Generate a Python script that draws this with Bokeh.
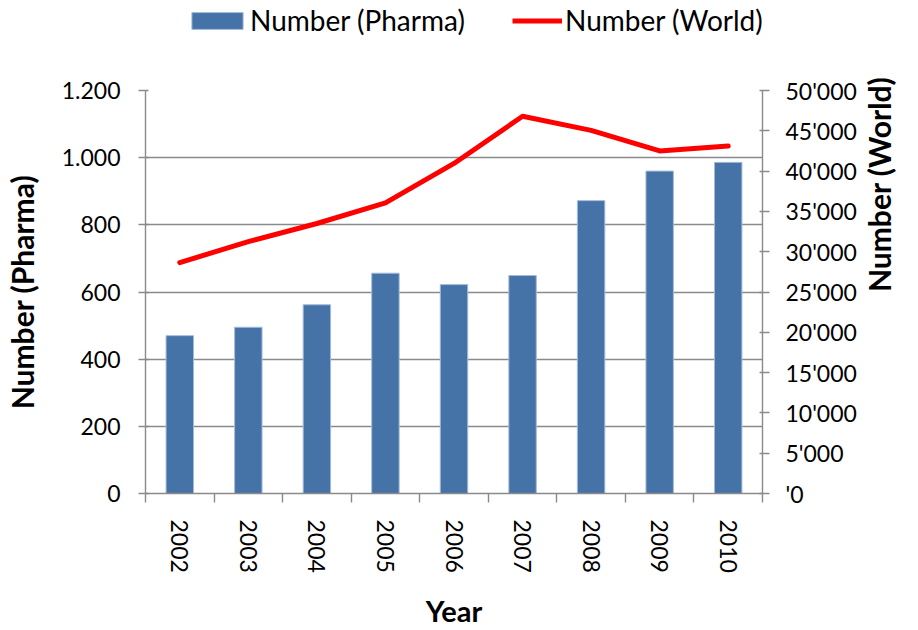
from math import pi
from bokeh.plotting import figure
from bokeh.layouts import column
from bokeh.models import (Range1d, LinearAxis, FixedTicker, Legend, LegendItem,
                          ColumnDataSource)
from bokeh.embed import file_html
from bokeh.resources import INLINE

# ---- data ----
years = ["2002", "2003", "2004", "2005", "2006", "2007", "2008", "2009", "2010"]
pharma = [470, 495, 562, 656, 622, 649, 872, 960, 986]
world = [28650, 31250, 33500, 36050, 40950, 46800, 45050, 42500, 43100]

pharma_ticks = [0, 200, 400, 600, 800, 1000, 1200]
pharma_tick_labels = ["0", "200", "400", "600", "800", "1.000", "1.200"]
world_ticks = [0, 5000, 10000, 15000, 20000, 25000, 30000, 35000, 40000, 45000, 50000]
world_tick_labels = ["'0", "5'000", "10'000", "15'000", "20'000", "25'000",
                     "30'000", "35'000", "40'000", "45'000", "50'000"]
series_names = ["Number (Pharma)", "Number (World)"]

FONT = "Lato"
GRAY = "#8A8A8A"
TICK_SIZE = "23px"
TITLE_SIZE = "30px"
BAR_FILL = "#4572A7"
BAR_EDGE = "#A3BBDA"
LINE_COLOR = "#FF0000"

n = len(years)
centers = list(range(n))
boundaries = [i - 0.5 for i in range(n + 1)]

src = ColumnDataSource(dict(x=centers, year=years, pharma=pharma, world=world))

W = 918
LEG_H = 45
H = 630 - LEG_H

# ---------------- main chart ----------------
p = figure(width=W, height=H, output_backend="svg", toolbar_location=None, tools="",
           x_range=Range1d(-0.5, n - 0.5), y_range=Range1d(0, pharma_ticks[-1]),
           min_border_left=145, min_border_right=156, min_border_top=90 - LEG_H,
           min_border_bottom=136)
p.extra_y_ranges = {"world": Range1d(0, world_ticks[-1])}
p.outline_line_color = None
p.background_fill_color = "white"
p.border_fill_color = "white"

p.xgrid.visible = False
p.ygrid.ticker = FixedTicker(ticks=pharma_ticks)
p.ygrid.grid_line_color = GRAY
p.ygrid.grid_line_width = 1.4

bars = p.vbar(x="x", top="pharma", source=src, width=0.4,
              fill_color=BAR_FILL, line_color=BAR_EDGE, line_width=1)
line = p.line(x="x", y="world", source=src, y_range_name="world",
              line_color=LINE_COLOR, line_width=5, line_cap="round", line_join="round")

# x axis
xa = p.xaxis[0]
xa.ticker = FixedTicker(ticks=centers, minor_ticks=boundaries)
xa.major_label_overrides = {c: y for c, y in zip(centers, years)}
xa.major_tick_out = 0
xa.major_tick_in = 0
xa.major_tick_line_color = None
xa.minor_tick_out = 9
xa.minor_tick_in = 0
xa.minor_tick_line_color = GRAY
xa.minor_tick_line_width = 1.4
xa.axis_line_color = GRAY
xa.axis_line_width = 1.4
xa.major_label_orientation = -pi / 2
xa.major_label_standoff = 17
xa.major_label_text_font = FONT
xa.major_label_text_font_size = TICK_SIZE
xa.major_label_text_color = "black"
xa.axis_label = "Year"
xa.axis_label_text_font = FONT
xa.axis_label_text_font_style = "bold"
xa.axis_label_text_font_size = "29px"
xa.axis_label_text_color = "black"
xa.axis_label_standoff = 17

# left axis
ya = p.yaxis[0]
ya.ticker = FixedTicker(ticks=pharma_ticks)
ya.major_label_overrides = dict(zip(pharma_ticks, pharma_tick_labels))
ya.major_tick_out = 7
ya.major_tick_in = 3
ya.major_tick_line_color = GRAY
ya.major_tick_line_width = 1.4
ya.minor_tick_line_color = None
ya.axis_line_color = GRAY
ya.axis_line_width = 1.4
ya.major_label_standoff = 18
ya.major_label_text_font = FONT
ya.major_label_text_font_size = TICK_SIZE
ya.major_label_text_color = "black"
ya.axis_label = series_names[0]
ya.axis_label_text_font = FONT
ya.axis_label_text_font_style = "bold"
ya.axis_label_text_font_size = TITLE_SIZE
ya.axis_label_text_color = "black"
ya.axis_label_standoff = 19

# right axis
ra = LinearAxis(y_range_name="world", ticker=FixedTicker(ticks=world_ticks))
ra.major_label_overrides = dict(zip(world_ticks, world_tick_labels))
ra.major_tick_out = 7
ra.major_tick_in = 3
ra.major_tick_line_color = GRAY
ra.major_tick_line_width = 1.4
ra.minor_tick_line_color = None
ra.axis_line_color = GRAY
ra.axis_line_width = 1.4
ra.major_label_standoff = 16
ra.major_label_text_font = FONT
ra.major_label_text_font_size = TICK_SIZE
ra.major_label_text_color = "black"
ra.axis_label = series_names[1]
ra.axis_label_text_font = FONT
ra.axis_label_text_font_style = "bold"
ra.axis_label_text_font_size = TITLE_SIZE
ra.axis_label_text_color = "black"
ra.axis_label_standoff = 19
if "axis_label_orientation" in LinearAxis.properties():
    ra.axis_label_orientation = -3 * pi / 2
p.add_layout(ra, "right")

# ---------------- legend strip ----------------
# The strip reuses the chart's source; its y-range lies far above every mark,
# so only the legend swatches appear.
lg = figure(width=W, height=LEG_H, output_backend="svg", toolbar_location=None, tools="",
            x_range=Range1d(-0.5, n - 0.5), y_range=Range1d(100000, 200000),
            x_axis_type=None, y_axis_type=None, min_border=0)
lg.outline_line_color = None
lg.border_fill_color = "white"
lg.background_fill_color = "white"
lbar = lg.vbar(x="x", top="pharma", source=src, width=0.4,
               fill_color=BAR_FILL, line_color=BAR_EDGE, line_width=1)
lline = lg.line(x="x", y="world", source=src, line_color=LINE_COLOR, line_width=5)

common = dict(orientation="horizontal", border_line_color=None,
              background_fill_alpha=0, padding=0, margin=0,
              label_text_font=FONT, label_text_font_size="28px",
              label_text_color="black")
legend_bar = Legend(items=[LegendItem(label=series_names[0], renderers=[lbar])],
                    location=(40, 8), glyph_width=64, glyph_height=21,
                    label_standoff=1, **common)
legend_line = Legend(items=[LegendItem(label=series_names[1], renderers=[lline])],
                     location=(367, 8), glyph_width=50, glyph_height=21,
                     label_standoff=3, **common)
lg.add_layout(legend_bar)
lg.add_layout(legend_line)

layout = column(lg, p, spacing=0)
open("out.html", "w").write(file_html(layout, INLINE))
